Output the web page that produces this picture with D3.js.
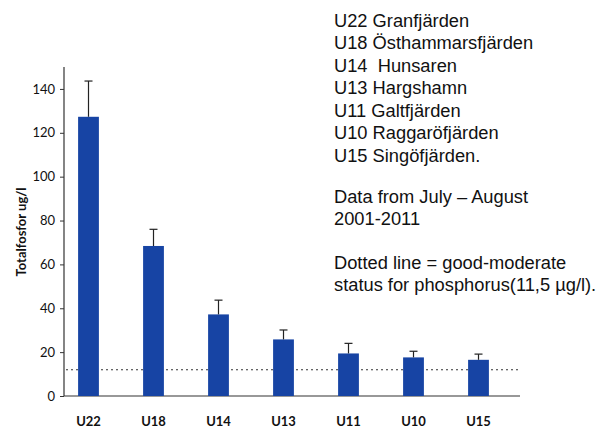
<!DOCTYPE html>
<html>
<head>
<meta charset="utf-8">
<script src="https://cdn.jsdelivr.net/npm/d3@7"></script>
<style>
    body { margin: 0; background: #fff; }
    svg { display: block; }
</style>
</head>
<body>
<div id="chart"></div>
<script>
// stations and mean total phosphorus (ug/l), with upper error bar
const stations = ["U22", "U18", "U14", "U13", "U11", "U10", "U15"];
const means = [127.3, 68.4, 37.2, 25.8, 19.4, 17.6, 16.5];
const upper = [143.6, 76.0, 43.7, 30.1, 24.0, 20.4, 19.1];
const threshold = 12;
const yTicks = [0, 20, 40, 60, 80, 100, 120, 140];

const notes = [
    "U22 Granfjärden",
    "U18 Östhammarsfjärden",
    "U14  Hunsaren",
    "U13 Hargshamn",
    "U11 Galtfjärden",
    "U10 Raggaröfjärden",
    "U15 Singöfjärden.",
    null,
    "Data from July \u2013 August",
    "2001-2011",
    null,
    "Dotted line = good-moderate",
    "status for phosphorus(11,5 µg/l)."
];

const width = 600, height = 428;
const barColor = "#1744a4";

const svg = d3.select("#chart").append("svg")
    .attr("width", width)
    .attr("height", height);

const x = d3.scaleBand()
    .domain(stations)
    .range([56, 511])
    .paddingInner(0.68)
    .paddingOuter(0.34);

const y = d3.scaleLinear()
    .domain([0, 150])
    .range([396, 67]);

// axes lines
svg.append("line")
    .attr("x1", 64).attr("x2", 64)
    .attr("y1", y(150)).attr("y2", y(0))
    .attr("stroke", "#333").attr("stroke-width", 1.2);

svg.append("line")
    .attr("x1", 64).attr("x2", 520)
    .attr("y1", y(0)).attr("y2", y(0))
    .attr("stroke", "#333").attr("stroke-width", 1.2);

// y ticks
const yAxis = svg.append("g")
    .attr("transform", "translate(64,0)")
    .call(d3.axisLeft(y).tickValues(yTicks).tickSize(4).tickPadding(5));
yAxis.select(".domain").remove();
yAxis.selectAll(".tick line").attr("stroke", "#333");
yAxis.selectAll("text")
    .attr("font-family", "Lato, 'Open Sans', sans-serif")
    .attr("font-size", 13)
    .attr("fill", "#111");

// threshold (dotted)
svg.append("line")
    .attr("x1", 66).attr("x2", 520)
    .attr("y1", y(threshold)).attr("y2", y(threshold))
    .attr("stroke", "#333")
    .attr("stroke-width", 1.1)
    .attr("stroke-dasharray", "2,3");

// bars
svg.append("g")
    .selectAll("rect")
    .data(stations)
    .join("rect")
    .attr("x", d => x(d))
    .attr("y", (d, i) => y(means[i]))
    .attr("width", x.bandwidth())
    .attr("height", (d, i) => y(0) - y(means[i]))
    .attr("fill", barColor);

// error bars (upper only)
const err = svg.append("g")
    .attr("stroke", "#222")
    .attr("stroke-width", 1.2);

err.selectAll("line.stem")
    .data(stations)
    .join("line")
    .attr("class", "stem")
    .attr("x1", d => x(d) + x.bandwidth() / 2)
    .attr("x2", d => x(d) + x.bandwidth() / 2)
    .attr("y1", (d, i) => y(means[i]))
    .attr("y2", (d, i) => y(upper[i]));

err.selectAll("line.cap")
    .data(stations)
    .join("line")
    .attr("class", "cap")
    .attr("x1", d => x(d) + x.bandwidth() / 2 - 4)
    .attr("x2", d => x(d) + x.bandwidth() / 2 + 4)
    .attr("y1", (d, i) => y(upper[i]))
    .attr("y2", (d, i) => y(upper[i]));

// x labels
svg.append("g")
    .selectAll("text")
    .data(stations)
    .join("text")
    .attr("x", d => x(d) + x.bandwidth() / 2)
    .attr("y", 426)
    .attr("text-anchor", "middle")
    .attr("font-family", "Lato, 'Open Sans', sans-serif")
    .attr("font-weight", "bold")
    .attr("font-size", 13)
    .attr("fill", "#111")
    .text(d => d);

// y title
svg.append("text")
    .attr("transform", "translate(26,232) rotate(-90)")
    .attr("text-anchor", "middle")
    .attr("font-family", "Lato, 'Open Sans', sans-serif")
    .attr("font-weight", "bold")
    .attr("font-size", 13)
    .attr("fill", "#111")
    .text("Totalfosfor ug/l");

// notes on the right
const noteY = [26.5, 49, 71.5, 94, 116.5, 139, 161.5, null, 203, 225, null, 269, 291];
svg.append("g")
    .attr("font-family", "'Liberation Sans', Arial, sans-serif")
    .attr("font-size", 18.3)
    .attr("fill", "#111")
    .selectAll("text")
    .data(notes.map((t, i) => ({ t, y: noteY[i] })).filter(d => d.t))
    .join("text")
    .attr("x", 334)
    .attr("y", d => d.y)
    .attr("xml:space", "preserve")
    .style("white-space", "pre")
    .text(d => d.t);
</script>
</body>
</html>
